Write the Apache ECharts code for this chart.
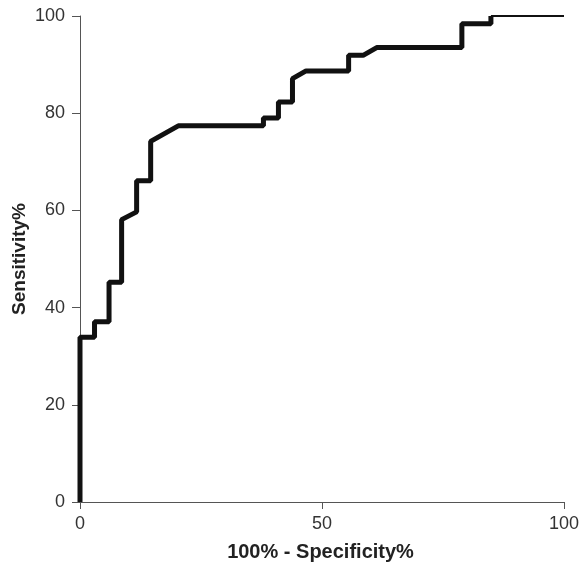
<!DOCTYPE html>
<html>
<head>
<meta charset="utf-8">
<script src="https://cdn.jsdelivr.net/npm/echarts@6/dist/echarts.min.js"></script>
<style>html,body{margin:0;padding:0;background:#fff;}#chart{width:579px;height:564px;}</style>
</head>
<body>
<div id="chart"></div>
<script>
// ROC curve step points (100% - Specificity%, Sensitivity%)
var fpr = [0, 0, 3.0, 3.0, 6.0, 6.0, 8.6, 8.6, 11.7, 11.7, 14.6, 14.6, 20.3, 37.9, 37.9, 41.0, 41.0, 43.9, 43.9, 46.7, 55.5, 55.5, 58.5, 61.3, 78.9, 78.9, 84.9, 84.9];
var tpr = [0, 33.9, 33.9, 37.1, 37.1, 45.2, 45.2, 58.1, 59.7, 66.1, 66.1, 74.2, 77.4, 77.4, 79.0, 79.0, 82.3, 82.3, 87.1, 88.7, 88.7, 91.9, 91.9, 93.5, 93.5, 98.4, 98.4, 100];
// final thin segment along the top
var tailFpr = [84.9, 100];
var tailTpr = [100, 100];
var xTicks = [0, 50, 100];
var xTitle = '100% - Specificity%';
var yTitle = 'Sensitivity%';

function pairs(xs, ys) { return xs.map(function (x, i) { return [x, ys[i]]; }); }

var chart = echarts.init(document.getElementById('chart'));
var font = 'Liberation Sans, Arial, sans-serif';
chart.setOption({
  animation: false,
  backgroundColor: '#fff',
  grid: { left: 77, right: 15, top: 16, bottom: 62, containLabel: false, outerBoundsMode: 'none' },
  xAxis: {
    type: 'value', min: -0.62, max: 100,
    name: xTitle, nameLocation: 'middle', nameGap: 40,
    nameTextStyle: { fontFamily: font, fontWeight: 'bold', fontSize: 20, color: '#222' },
    axisLine: { show: true, lineStyle: { color: '#555', width: 1 } },
    axisTick: { show: true, length: 7, lineStyle: { color: '#555' }, customValues: xTicks },
    axisLabel: { fontFamily: font, fontSize: 18, color: '#333', margin: 13, customValues: xTicks },
    splitLine: { show: false }
  },
  yAxis: {
    type: 'value', min: 0, max: 100, interval: 20,
    name: yTitle, nameLocation: 'middle', nameGap: 48, nameMoveOverlap: false,
    nameTextStyle: { fontFamily: font, fontWeight: 'bold', fontSize: 19, color: '#222' },
    axisLine: { show: true, lineStyle: { color: '#555', width: 1 } },
    axisTick: { show: true, length: 8, lineStyle: { color: '#555' } },
    axisLabel: { fontFamily: font, fontSize: 18, color: '#333', margin: 12 },
    splitLine: { show: false }
  },
  series: [
    {
      type: 'line', data: pairs(fpr, tpr), showSymbol: false, clip: false,
      lineStyle: { color: '#111', width: 5 }
    },
    {
      type: 'line', data: pairs(tailFpr, tailTpr), showSymbol: false, clip: false,
      lineStyle: { color: '#111', width: 2 }
    }
  ]
});
</script>
</body>
</html>
